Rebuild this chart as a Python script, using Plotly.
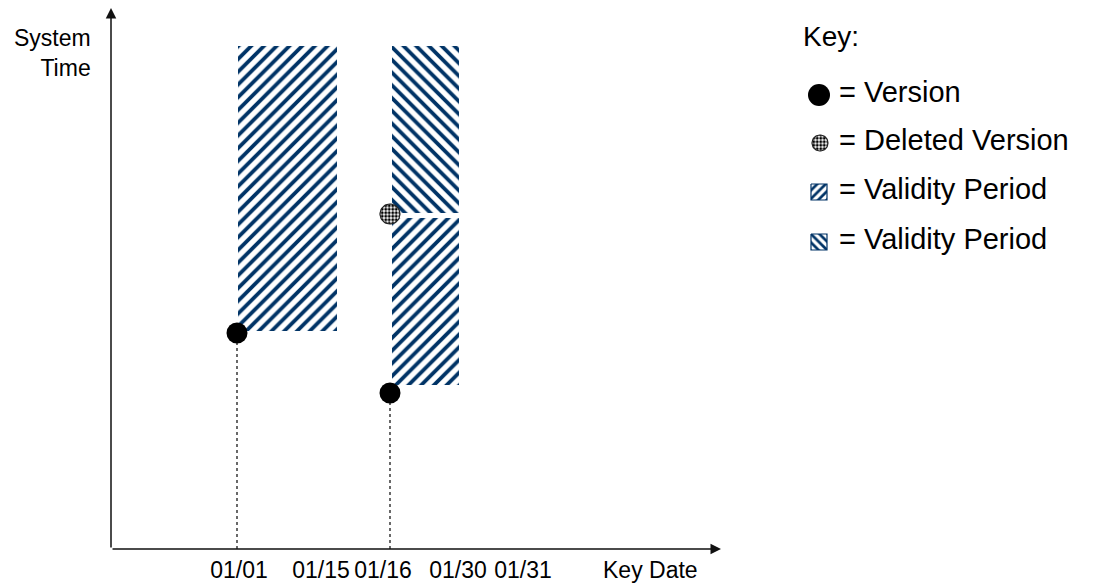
import numpy as np
import plotly.graph_objects as go

W, H = 1094, 584
FONT = "Liberation Sans, Arial, sans-serif"
NAVY = "#003366"

# ---------------- data (schematic units along the two axes) ----------------
tick_labels = ["01/01", "01/15", "01/16", "01/30", "01/31"]
tick_positions = [128, 210, 272, 347, 412]

version_key_dates = [126, 279]          # 01/01, 01/16
version_system_times = [216, 156]

deleted_key_dates = [279]               # 01/16
deleted_system_times = [335]

period_key_from = [127, 281, 281]
period_key_to = [226, 348, 348]
period_sys_from = [218, 164, 336]
period_sys_to = [503, 331, 503]
period_hatch = ["/", "/", "\\"]

legend_labels = ["= Version", "= Deleted Version", "= Validity Period", "= Validity Period"]

X_RANGE = [0, 610]
Y_RANGE = [0, 541]

fig = go.Figure()

def circle_poly(cx, cy, r, n=48):
    t = np.linspace(0, 2 * np.pi, n)
    return list(cx + r * np.cos(t)), list(cy + r * np.sin(t))

CHECK = dict(shape=".", fgcolor="black", fgopacity=1, bgcolor="white", size=3.5, solidity=0.55)

# dotted drop lines from versions to the key date axis
for xk, ys in zip(version_key_dates, version_system_times):
    fig.add_trace(go.Scatter(x=[xk, xk], y=[0, ys], mode="lines",
                             line=dict(color="#444444", width=1.6, dash="dot"),
                             hoverinfo="skip", showlegend=False))

# validity periods (hatched rectangles)
for x0, x1, y0, y1, hs in zip(period_key_from, period_key_to, period_sys_from, period_sys_to, period_hatch):
    fig.add_trace(go.Scatter(x=[x0, x1, x1, x0, x0], y=[y0, y0, y1, y1, y0], mode="lines",
                             fill="toself", fillcolor="white", line=dict(width=0, color=NAVY),
                             fillpattern=dict(shape=hs, fgcolor=NAVY, fgopacity=1, bgcolor="white",
                                              size=9, solidity=0.42),
                             hoverinfo="skip", showlegend=False))

# versions
fig.add_trace(go.Scatter(x=version_key_dates, y=version_system_times, mode="markers",
                         marker=dict(size=21, color="black"), hoverinfo="skip", showlegend=False))

# deleted version (checkered circle)
for xk, ys in zip(deleted_key_dates, deleted_system_times):
    cx, cy = circle_poly(xk, ys, 10)
    fig.add_trace(go.Scatter(x=cx, y=cy, mode="lines", fill="toself", fillcolor="white",
                             line=dict(width=1.2, color="#222222"), fillpattern=CHECK,
                             hoverinfo="skip", showlegend=False))

# ---------------- key (drawn in pixel space on an overlay axis) ----------------
LX, row_y = 819, [95, 143, 192, 242]
fig.add_trace(go.Scatter(x=[LX], y=[row_y[0]], mode="markers", xaxis="x2", yaxis="y2",
                         marker=dict(size=22, color="black"), hoverinfo="skip", showlegend=False))
cx, cy = circle_poly(LX + 1, row_y[1], 8)
fig.add_trace(go.Scatter(x=cx, y=cy, mode="lines", fill="toself", fillcolor="white", xaxis="x2", yaxis="y2",
                         line=dict(width=1.2, color="#222222"), fillpattern=CHECK,
                         hoverinfo="skip", showlegend=False))
for yy, hs in zip(row_y[2:], ["/", "\\"]):
    s = 8
    fig.add_trace(go.Scatter(x=[LX - s, LX + s, LX + s, LX - s, LX - s],
                             y=[yy - s, yy - s, yy + s, yy + s, yy - s], mode="lines",
                             fill="toself", fillcolor="white", xaxis="x2", yaxis="y2",
                             line=dict(width=1.2, color=NAVY),
                             fillpattern=dict(shape=hs, fgcolor=NAVY, fgopacity=1, bgcolor="white",
                                              size=6, solidity=0.45),
                             hoverinfo="skip", showlegend=False))

annotations = []
# axis arrows
annotations.append(dict(x=X_RANGE[1], y=0, ax=0, ay=0, xref="x", yref="y", axref="x", ayref="y",
                        text="", showarrow=True, arrowhead=2, arrowsize=1.4, arrowwidth=1.5,
                        arrowcolor="#111111", standoff=0))
annotations.append(dict(x=0, y=Y_RANGE[1], ax=0, ay=0, xref="x", yref="y", axref="x", ayref="y",
                        text="", showarrow=True, arrowhead=2, arrowsize=1.4, arrowwidth=1.5,
                        arrowcolor="#111111", standoff=0))
# axis titles
annotations.append(dict(x=93 / W, y=1 - 53 / H, xref="paper", yref="paper", xanchor="right", yanchor="middle",
                        align="right", text="System<br>Time", showarrow=False,
                        font=dict(family=FONT, size=23, color="black")))
annotations.append(dict(x=650 / W, y=1 - 570 / H, xref="paper", yref="paper", xanchor="center", yanchor="middle",
                        text="Key Date", showarrow=False, font=dict(family=FONT, size=23, color="black")))
# key texts
annotations.append(dict(x=801 / W, y=1 - 36 / H, xref="paper", yref="paper", xanchor="left", yanchor="middle",
                        text="Key:", showarrow=False, font=dict(family=FONT, size=28, color="black")))
for lab, yy in zip(legend_labels, row_y):
    annotations.append(dict(x=837 / W, y=1 - (yy - 3) / H, xref="paper", yref="paper",
                            xanchor="left", yanchor="middle", text=lab, showarrow=False,
                            font=dict(family=FONT, size=29, color="black")))

fig.update_layout(
    width=W, height=H,
    margin=dict(l=0, r=0, t=0, b=0, pad=0),
    paper_bgcolor="white", plot_bgcolor="rgba(0,0,0,0)",
    showlegend=False,
    xaxis=dict(domain=[111 / W, 721 / W], range=X_RANGE, showgrid=False, zeroline=False, showline=False,
               tickvals=tick_positions, ticktext=tick_labels, ticks="", fixedrange=True,
               ticklabelstandoff=5,
               tickfont=dict(family=FONT, size=23, color="black")),
    yaxis=dict(domain=[1 - 549 / H, 1 - 8 / H], range=Y_RANGE, showgrid=False, zeroline=False,
               showline=False, showticklabels=False, fixedrange=True),
    xaxis2=dict(domain=[0, 1], range=[0, W], anchor="y2", visible=False, fixedrange=True),
    yaxis2=dict(domain=[0, 1], range=[H, 0], anchor="x2", visible=False, fixedrange=True),
    annotations=annotations,
)

fig.write_html("out.html", config={"displayModeBar": False},
               post_script="document.body.style.margin='0';document.body.style.overflow='hidden';")
